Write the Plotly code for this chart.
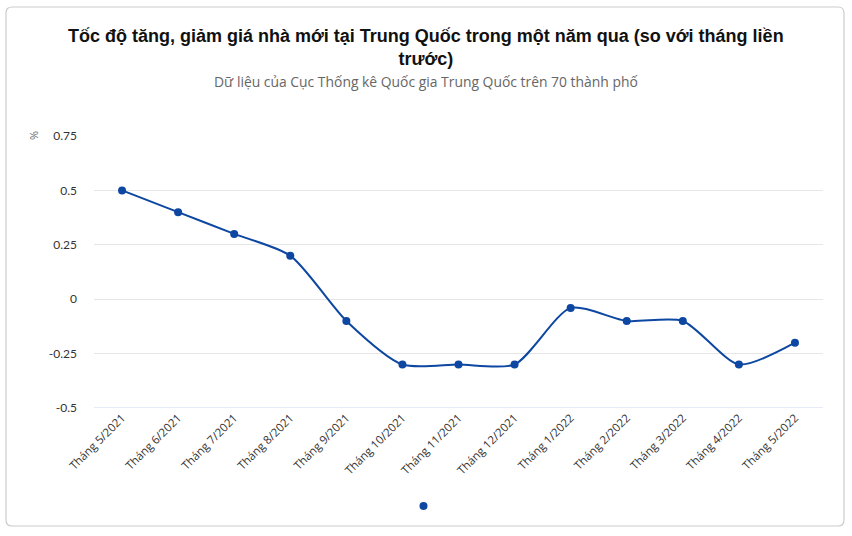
import plotly.graph_objects as go

months = ["Tháng 5/2021", "Tháng 6/2021", "Tháng 7/2021", "Tháng 8/2021", "Tháng 9/2021",
          "Tháng 10/2021", "Tháng 11/2021", "Tháng 12/2021", "Tháng 1/2022", "Tháng 2/2022",
          "Tháng 3/2022", "Tháng 4/2022", "Tháng 5/2022"]
values = [0.5, 0.4, 0.3, 0.2, -0.1, -0.3, -0.3, -0.3, -0.04, -0.1, -0.1, -0.3, -0.2]
y_ticks = [-0.5, -0.25, 0, 0.25, 0.5, 0.75]
y_tick_text = ["-0.5", "-0.25", "0", "0.25", "0.5", "0.75"]

W, H = 852, 536
L, R, T, B = 94, 29, 136, 128
PW, PH = W - L - R, H - T - B

def px(x):
    return (x - L) / PW

def py(y):
    return 1 - (y - T) / PH

COLOR = "#0d47a1"

fig = go.Figure()
fig.add_trace(go.Scatter(
    x=months, y=values, mode="lines+markers",
    line=dict(color=COLOR, width=2, shape="spline", smoothing=0.7),
    marker=dict(color=COLOR, size=8),
    showlegend=False, hoverinfo="x+y",
))
fig.add_trace(go.Scatter(
    x=[None], y=[None], mode="markers", name="",
    marker=dict(color=COLOR, size=8), showlegend=True,
))

# rounded card border
x0, x1, y0, y1, r = 6, 844, 7, 526, 6
def P(x, y):
    return f"{px(x):.5f},{py(y):.5f}"
path = (f"M {P(x0+r, y0)} L {P(x1-r, y0)} Q {P(x1, y0)} {P(x1, y0+r)} "
        f"L {P(x1, y1-r)} Q {P(x1, y1)} {P(x1-r, y1)} L {P(x0+r, y1)} "
        f"Q {P(x0, y1)} {P(x0, y1-r)} L {P(x0, y0+r)} Q {P(x0, y0)} {P(x0+r, y0)} Z")

fig.update_layout(
    width=W, height=H,
    margin=dict(l=L, r=R, t=T, b=B),
    paper_bgcolor="white", plot_bgcolor="white",
    font=dict(family="Open Sans, Lato, sans-serif", color="#333333"),
    shapes=[dict(type="path", xref="paper", yref="paper", path=path,
                 line=dict(color="#cccccc", width=1.2), fillcolor="rgba(0,0,0,0)", layer="below")],
    annotations=[
        dict(text="<b>Tốc độ tăng, giảm giá nhà mới tại Trung Quốc trong một năm qua (so với tháng liền<br>trước)</b>",
             x=px(426), y=py(47), xref="paper", yref="paper", showarrow=False,
             font=dict(size=18, color="#111111", family="Liberation Sans, Arial, sans-serif"),
             xanchor="center", yanchor="middle", align="center"),
        dict(text="Dữ liệu của Cục Thống kê Quốc gia Trung Quốc trên 70 thành phố",
             x=px(426), y=py(81), xref="paper", yref="paper", showarrow=False,
             font=dict(size=13.9, color="#666666", family="Open Sans, sans-serif"),
             xanchor="center", yanchor="middle"),
        dict(text="%", x=px(33), y=py(136), xref="paper", yref="paper", showarrow=False,
             textangle=-90, font=dict(size=11, color="#666666"), xanchor="center", yanchor="middle"),
    ],
    xaxis=dict(
        type="category", categoryorder="array", categoryarray=months,
        range=[-0.5, len(months) - 0.5],
        showgrid=False, zeroline=False, showline=False,
        tickangle=-45, tickfont=dict(size=11.5, color="#333333", family="Open Sans, sans-serif"),
        ticks="", fixedrange=True,
    ),
    yaxis=dict(
        range=[-0.5, 0.75], tickvals=y_ticks, ticktext=y_tick_text,
        showgrid=True, gridcolor="#e6e6e6", gridwidth=1,
        zeroline=False, showline=False,
        tickfont=dict(size=12, color="#333333", family="Lato, sans-serif"), ticks="", ticklabelstandoff=16,
        fixedrange=True,
    ),
    legend=dict(orientation="h", x=px(426), y=py(506), xanchor="center", yanchor="middle",
                font=dict(size=12), itemwidth=30),
    showlegend=True,
)
# bluish baseline at -0.5
fig.add_shape(type="line", xref="paper", yref="y", x0=0, x1=1, y0=-0.5, y1=-0.5,
              line=dict(color="#ccd6eb", width=1), layer="below")

fig.write_html("out.html", config={"displayModeBar": False},
               post_script="document.body.style.margin='0px';")
